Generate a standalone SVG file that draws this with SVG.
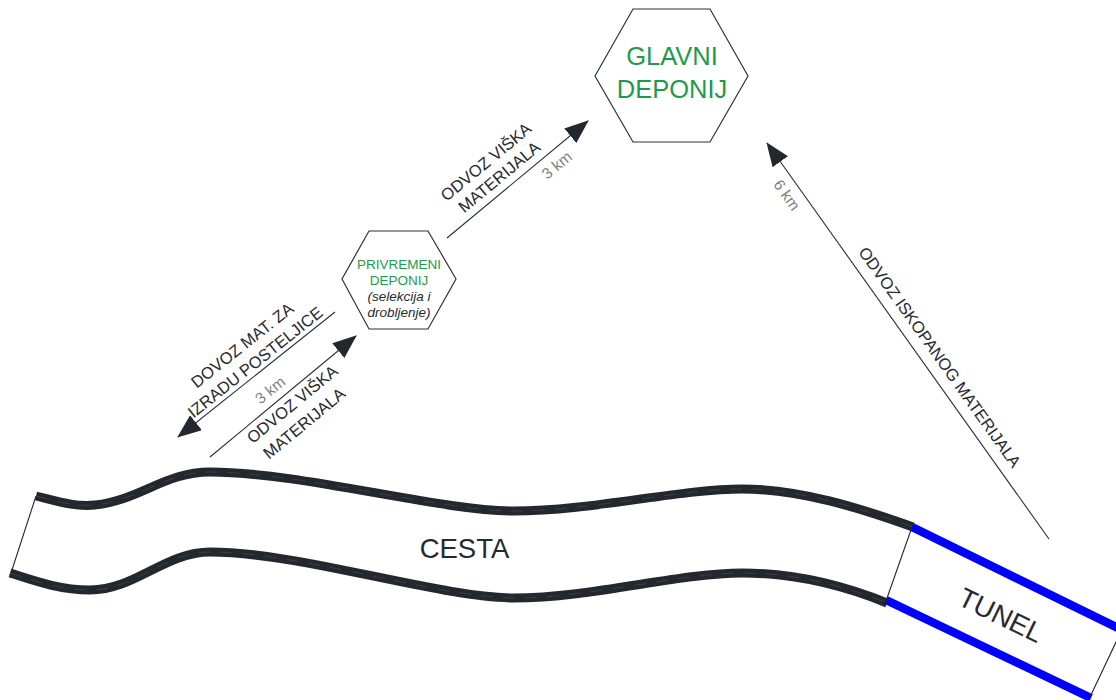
<svg xmlns="http://www.w3.org/2000/svg" width="1116" height="700" viewBox="0 0 1116 700">
<style>
text{font-family:"Liberation Sans",Arial,sans-serif;fill:#262a31}
.hex{fill:#fff;stroke:#2e3238;stroke-width:1.2}
.green{fill:#1f9a4c}
.lbl{font-size:16.5px;text-anchor:middle}
.km{font-size:15.5px;text-anchor:middle;fill:#7f7f7f}
.conn{stroke:#2a2e35;stroke-width:1.1;fill:none}
.band{fill:none;stroke:#23272e;stroke-width:9}
.bandhatch{fill:none;stroke:#ffffff;stroke-width:0.5;stroke-dasharray:12 10;opacity:0.22}
.tunnel{fill:none;stroke:#0000ff;stroke-width:8.5}
.thin{stroke:#23272e;stroke-width:1.1;fill:none}
</style>
<defs>
<marker id="ah" markerUnits="userSpaceOnUse" viewBox="0 0 24 19" refX="23" refY="9.5" markerWidth="24" markerHeight="19" orient="auto">
<path d="M0,0 L24,9.5 L0,19 Z" fill="#23272e"/>
</marker>
</defs>
<rect width="1116" height="700" fill="#fff"/>

<g id="road">
<path class="band" d="M36,496 C60,502 75,507 95,505 C140,500 165,472 210,472 C300,472 440,511 514,511 C590,511 680,489 742,489 C800,489 860,508 913,527"/>
<path class="bandhatch" d="M36,496 C60,502 75,507 95,505 C140,500 165,472 210,472 C300,472 440,511 514,511 C590,511 680,489 742,489 C800,489 860,508 913,527"/>
<path class="band" d="M10,573 C35,581 60,590 90,590 C135,590 165,552 210,552 C300,552 440,598 514,598 C590,598 680,573 742,573 C800,573 850,588 887,603"/>
<path class="bandhatch" d="M10,573 C35,581 60,590 90,590 C135,590 165,552 210,552 C300,552 440,598 514,598 C590,598 680,573 742,573 C800,573 850,588 887,603"/>
<line class="thin" x1="36" y1="496" x2="11" y2="573"/>
<text x="464.5" y="557.5" font-size="27.5" text-anchor="middle">CESTA</text>
</g>

<g id="tunnel">
<line class="tunnel" x1="912" y1="527" x2="1122" y2="630"/>
<line class="tunnel" x1="886" y1="600" x2="1091" y2="698"/>
<line class="thin" x1="912" y1="527" x2="886" y2="601"/>
<line class="thin" x1="1090" y1="697" x2="1117" y2="640"/>
<text transform="translate(1001,615) rotate(26)" y="9.8" font-size="27.5" text-anchor="middle">TUNEL</text>
</g>

<g id="glavni-deponij">
<polygon class="hex" points="633,9 710,9 748,76 710,142 633,142 595,76"/>
<text class="green" x="672" y="65" font-size="25.5" text-anchor="middle">GLAVNI</text>
<text class="green" x="672" y="98" font-size="25.5" text-anchor="middle">DEPONIJ</text>
</g>

<g id="privremeni-deponij">
<polygon class="hex" points="369,231 428,231 456,279 428,329 369,329 342,279"/>
<text class="green" x="399" y="269" font-size="13.5" text-anchor="middle">PRIVREMENI</text>
<text class="green" x="399" y="285" font-size="13.5" text-anchor="middle">DEPONIJ</text>
<text x="399" y="301" font-size="13.5" font-style="italic" text-anchor="middle">(selekcija i</text>
<text x="399" y="317" font-size="13.5" font-style="italic" text-anchor="middle">drobljenje)</text>
</g>

<g id="connectors">
<line class="conn" x1="447" y1="238" x2="588" y2="121" marker-end="url(#ah)"/>
<line class="conn" x1="335" y1="312" x2="178" y2="437" marker-end="url(#ah)"/>
<line class="conn" x1="210" y1="457" x2="356" y2="336" marker-end="url(#ah)"/>
<line class="conn" x1="1049" y1="539" x2="767" y2="143" marker-end="url(#ah)"/>

<text class="lbl" transform="translate(485.7,161.7) rotate(-39.7)" y="6">ODVOZ VIŠKA</text>
<text class="lbl" transform="translate(499,176.7) rotate(-39.7)" y="6">MATERIJALA</text>
<text class="km" transform="translate(556.7,165) rotate(-39.7)" y="5.5">3 km</text>

<text class="lbl" transform="translate(242,345) rotate(-38.5)" y="6">DOVOZ MAT. ZA</text>
<text class="lbl" transform="translate(255,362) rotate(-38.5)" y="6">IZRADU POSTELJICE</text>
<text class="km" transform="translate(270,390) rotate(-39)" y="5.5">3 km</text>
<text class="lbl" transform="translate(292,404) rotate(-39.6)" y="6">ODVOZ VIŠKA</text>
<text class="lbl" transform="translate(304,423) rotate(-39.6)" y="6">MATERIJALA</text>

<text class="lbl" transform="translate(940,357) rotate(54.5)" y="6">ODVOZ ISKOPANOG MATERIJALA</text>
<text class="km" transform="translate(787,195) rotate(54.5)" y="5.5">6 km</text>
</g>
</svg>
